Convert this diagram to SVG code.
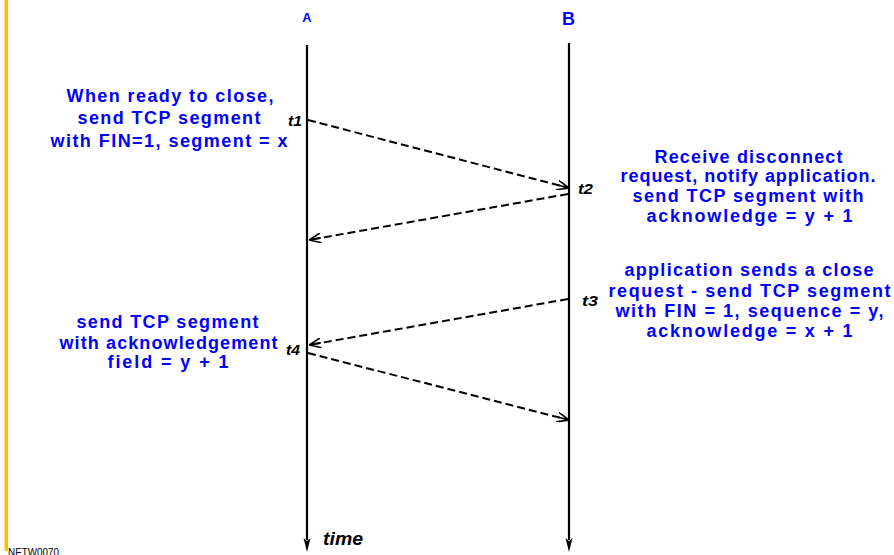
<svg xmlns="http://www.w3.org/2000/svg" width="894" height="555" viewBox="0 0 894 555">
<defs>
<style>
.lbl{font-family:"Liberation Sans",Arial,sans-serif;font-weight:bold;font-size:18px;fill:#0000ff;text-anchor:middle}
.t{font-family:"Liberation Sans",Arial,sans-serif;font-weight:bold;font-style:italic;font-size:14px;fill:#000}
.life{stroke:#000;stroke-width:2.2;fill:none}
.msg{stroke:#000;stroke-width:2;stroke-dasharray:8,4;fill:none}
</style>
<marker id="ah" viewBox="0 0 12 10" refX="12" refY="5" markerWidth="12" markerHeight="10" markerUnits="userSpaceOnUse" orient="auto">
<path d="M0,0 L12,5 L0,10 M12,5 L0,5" fill="none" stroke="#000" stroke-width="1.6"/>
</marker>
</defs>
<rect x="4.5" y="0" width="3.5" height="551" fill="#ffbf00"/>
<g id="nodeA">
<text x="307" y="22" style="font-family:'Liberation Sans',Arial,sans-serif;font-weight:bold;font-size:13px;fill:#0000ff;text-anchor:middle">A</text>
<line class="life" x1="307" y1="45" x2="307" y2="540"/>
<path d="M303.5,538 L307,552 L310.5,538 L307,541 Z" fill="#000"/>
</g>
<g id="nodeB">
<text x="568.5" y="25" style="font-family:'Liberation Sans',Arial,sans-serif;font-weight:bold;font-size:18px;fill:#0000ff;text-anchor:middle">B</text>
<line class="life" x1="569" y1="43" x2="569" y2="540"/>
<path d="M565.5,538 L569,552 L572.5,538 L569,541 Z" fill="#000"/>
</g>
<g id="connectors">
<line class="msg" x1="308" y1="120" x2="569" y2="188" marker-end="url(#ah)"/>
<line class="msg" x1="568" y1="194" x2="309" y2="240" marker-end="url(#ah)"/>
<line class="msg" x1="568" y1="299" x2="309" y2="345" marker-end="url(#ah)"/>
<line class="msg" x1="308" y1="353" x2="569" y2="420" marker-end="url(#ah)"/>
</g>
<g id="timeLabels">
<text class="t" x="288" y="126" textLength="14" lengthAdjust="spacingAndGlyphs">t1</text>
<text class="t" x="578" y="194" textLength="15" lengthAdjust="spacingAndGlyphs">t2</text>
<text class="t" x="582" y="306" textLength="16" lengthAdjust="spacingAndGlyphs">t3</text>
<text class="t" x="286" y="355" textLength="14" lengthAdjust="spacingAndGlyphs">t4</text>
</g>
<g id="noteA1">
<text class="lbl" x="170" y="102" textLength="207" lengthAdjust="spacing">When ready to close,</text>
<text class="lbl" x="169" y="124" textLength="183" lengthAdjust="spacing">send TCP segment</text>
<text class="lbl" x="169" y="147" textLength="237" lengthAdjust="spacing">with FIN=1, segment = x</text>
</g>
<g id="noteB1">
<text class="lbl" x="748.5" y="163" textLength="188" lengthAdjust="spacing">Receive disconnect</text>
<text class="lbl" x="748" y="182" textLength="255" lengthAdjust="spacing">request, notify application.</text>
<text class="lbl" x="748" y="202" textLength="231" lengthAdjust="spacing">send TCP segment with</text>
<text class="lbl" x="749.5" y="222" textLength="206" lengthAdjust="spacing">acknowledge = y + 1</text>
</g>
<g id="noteB2">
<text class="lbl" x="749" y="276" textLength="249" lengthAdjust="spacing">application sends a close</text>
<text class="lbl" x="749.5" y="297" textLength="282" lengthAdjust="spacing">request - send TCP segment</text>
<text class="lbl" x="749.5" y="317" textLength="268" lengthAdjust="spacing">with FIN = 1, sequence = y,</text>
<text class="lbl" x="749.5" y="337" textLength="206" lengthAdjust="spacing">acknowledge = x + 1</text>
</g>
<g id="noteA2">
<text class="lbl" x="167.5" y="328" textLength="182" lengthAdjust="spacing">send TCP segment</text>
<text class="lbl" x="168.5" y="349" textLength="218" lengthAdjust="spacing">with acknowledgement</text>
<text class="lbl" x="168" y="368" textLength="121" lengthAdjust="spacing">field = y + 1</text>
</g>
<text x="323" y="545" textLength="40" lengthAdjust="spacingAndGlyphs" style="font-family:'Liberation Sans',Arial,sans-serif;font-weight:bold;font-style:italic;font-size:18px;fill:#000">time</text>
<text x="8" y="556" textLength="51" lengthAdjust="spacingAndGlyphs" style="font-family:'Liberation Sans',Arial,sans-serif;font-size:10px;fill:#000">NETW0070</text>
</svg>
